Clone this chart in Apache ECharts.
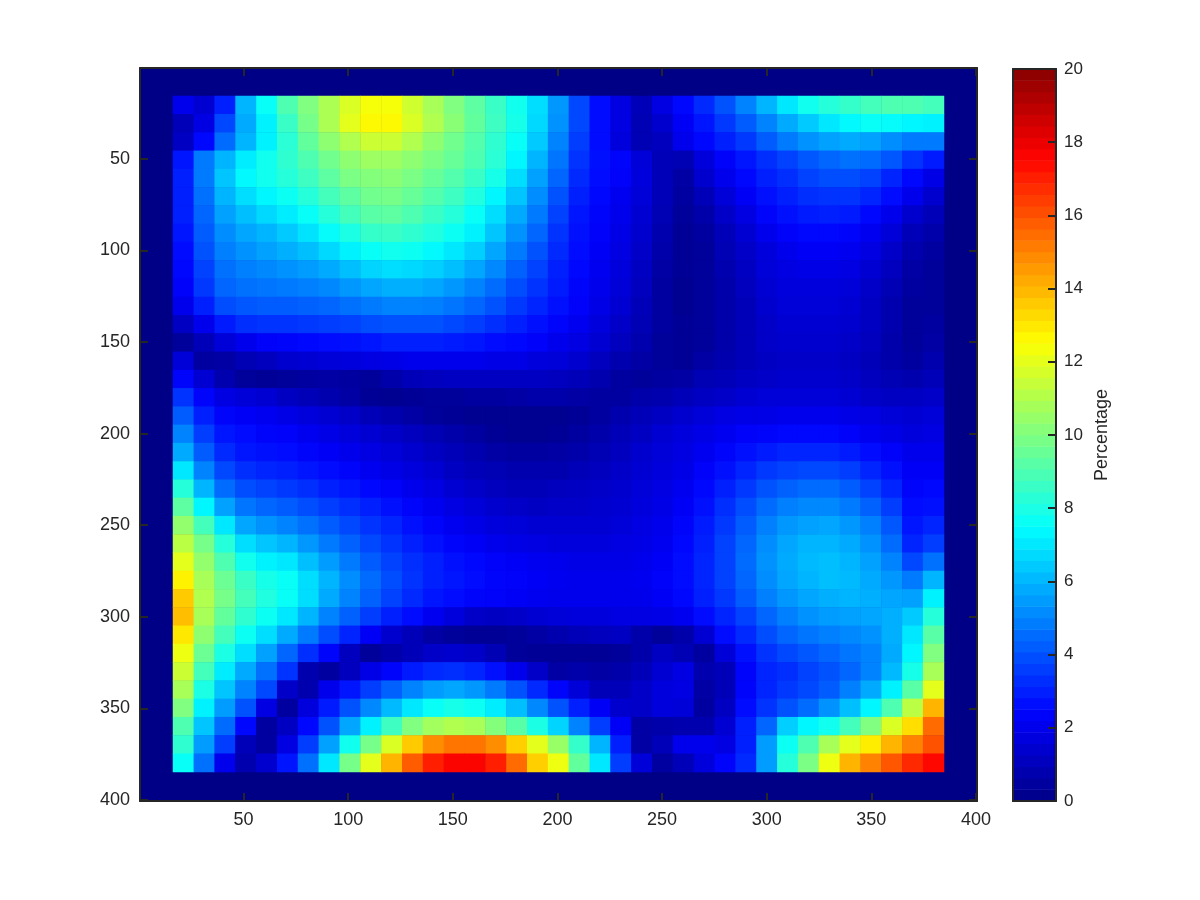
<!DOCTYPE html>
<html>
<head>
<meta charset="utf-8">
<style>html,body{margin:0;padding:0;background:#fff}#chart{width:1200px;height:900px}</style>
<script src="https://cdn.jsdelivr.net/npm/echarts@6/dist/echarts.min.js"></script>
</head>
<body>
<div id="chart"></div>
<script>
const axisTicks = [50,100,150,200,250,300,350,400];
const colorTicks = 2;
const colorMax = 20;
const colorbarLabel = 'Percentage';
const cellX = [20,30,40,50,60,70,80,90,100,110,120,130,140,150,160,170,180,190,200,210,220,230,240,250,260,270,280,290,300,310,320,330,340,350,360,370,380];
const cellY = cellX.slice();
const percentage = [
[2.0,1.5,3,6,7.6,9,10,10.9,11.8,12.4,12.4,11.6,10.8,10,9.3,8.6,7.8,6.8,5.4,3.8,2.6,1.8,1.0,1.8,2.5,3.2,4,5,6,7,7.8,8.2,8.5,8.8,9,9,8.8],
[1,1.8,3.8,5.8,7.2,8.6,9.8,10.9,12,12.6,12.6,11.8,11,10.2,9.4,8.7,7.9,6.7,5.3,3.8,2.6,1.8,0.9,1.4,2.2,2.8,3.5,4.2,5,5.8,6.4,7,7.4,7.6,7.5,7.3,7.2],
[1.2,2.5,4.5,6,7.2,8.3,9.4,10.3,11,11.5,11.5,11,10.3,9.7,9.1,8.4,7.6,6.4,5,3.6,2.6,1.7,0.9,1.1,2,2.5,3,3.5,4.2,4.8,5.3,5.6,5.8,5.6,5.2,4.8,4.8],
[2.8,4.8,6,7.1,7.8,8.4,9,9.7,10.3,10.6,10.6,10.3,9.9,9.5,9,8.3,7.3,6,4.7,3.4,2.7,2.4,1.6,1,0.9,1.7,2.3,2.8,3.3,3.7,4.1,4.4,4.6,4.5,4.1,3.4,2.9],
[3,4.8,6.3,7.4,7.8,8.2,8.7,9.3,9.9,10.1,10.2,9.9,9.5,9.1,8.6,7.9,6.8,5.6,4.4,3.2,2.6,2.3,1.7,1,0.6,1.4,2,2.5,3,3.3,3.7,3.9,3.9,3.7,3.1,2.5,1.9],
[3,4.6,6,6.8,7.3,7.7,8.2,8.8,9.3,9.7,9.8,9.5,9.1,8.7,8.1,7.3,6.3,5.2,4,3,2.5,2.1,1.6,1,0.5,1,1.6,2.2,2.7,3,3.3,3.4,3.4,3.1,2.6,2,1.4],
[3,4.4,5.6,6.2,6.7,7.1,7.6,8.2,8.8,9.2,9.3,9,8.6,8.2,7.6,6.8,5.8,4.8,3.7,2.8,2.4,2,1.5,0.9,0.4,0.7,1.3,1.8,2.4,2.7,2.9,3,2.9,2.5,2,1.4,1],
[2.8,4.2,5.2,5.7,6,6.4,6.9,7.5,8,8.5,8.6,8.4,8.1,7.7,7.2,6.3,5.3,4.4,3.4,2.7,2.3,1.9,1.4,0.8,0.3,0.5,1,1.5,2,2.3,2.5,2.5,2.4,2.1,1.6,1,0.7],
[2.6,4,4.9,5.3,5.6,5.9,6.2,6.7,7.2,7.6,7.8,7.7,7.4,7,6.5,5.7,4.8,4,3.2,2.6,2.2,1.8,1.3,0.7,0.3,0.4,0.9,1.3,1.7,2,2.2,2.2,2.1,1.8,1.3,0.8,0.5],
[2.5,3.7,4.6,4.9,5.1,5.3,5.5,5.8,6.2,6.6,6.8,6.7,6.5,6.2,5.7,5.1,4.3,3.7,3,2.5,2.1,1.7,1.2,0.6,0.3,0.4,0.8,1.2,1.6,1.8,1.9,1.9,1.8,1.5,1.1,0.6,0.4],
[2.3,3.5,4.4,4.6,4.7,4.8,4.9,5.1,5.4,5.7,5.9,5.9,5.7,5.4,5,4.5,3.9,3.4,2.9,2.4,2,1.6,1.1,0.5,0.2,0.4,0.7,1.1,1.5,1.7,1.7,1.7,1.6,1.3,0.9,0.5,0.4],
[2,3,3.9,4.1,4.2,4.2,4.3,4.4,4.6,4.8,5,5,4.9,4.7,4.4,4,3.5,3.1,2.7,2.3,1.9,1.5,1,0.5,0.2,0.4,0.7,1,1.4,1.6,1.6,1.6,1.5,1.2,0.8,0.4,0.4],
[1.2,2,2.9,3.3,3.4,3.4,3.5,3.6,3.7,3.9,4,4,4,3.8,3.6,3.3,3,2.7,2.4,2.1,1.7,1.3,0.9,0.5,0.3,0.4,0.7,1,1.3,1.5,1.5,1.5,1.4,1.2,0.8,0.4,0.5],
[0.4,1,1.6,2,2.3,2.4,2.5,2.6,2.7,2.8,3,3,3,2.9,2.8,2.6,2.5,2.3,2,1.8,1.5,1.1,0.8,0.4,0.3,0.4,0.7,1,1.3,1.4,1.4,1.4,1.3,1.1,0.7,0.4,0.6],
[1.6,0.5,0.6,0.9,1.1,1.4,1.5,1.6,1.7,1.8,1.9,2,2,2,2,1.9,1.9,1.7,1.6,1.4,1.1,0.8,0.6,0.4,0.3,0.6,0.8,1,1.2,1.3,1.3,1.3,1.2,1,0.7,0.5,0.8],
[2.4,1.5,0.8,0.4,0.3,0.4,0.5,0.6,0.5,0.4,0.7,1,1.1,1.2,1.2,1.2,1.2,1.2,1.1,1,0.8,0.5,0.4,0.5,0.6,0.9,1,1.2,1.3,1.4,1.4,1.4,1.3,1.1,0.9,0.8,1],
[3.4,2.4,1.8,1.6,1.5,1.2,1,0.8,0.6,0.3,0.2,0.3,0.4,0.4,0.5,0.5,0.6,0.7,0.7,0.6,0.5,0.5,0.7,0.8,1,1.2,1.3,1.5,1.6,1.6,1.6,1.6,1.5,1.3,1.2,1.2,1.3],
[4.2,3,2.4,2.2,2.1,1.9,1.7,1.5,1.3,1,0.8,0.6,0.4,0.3,0.2,0.2,0.2,0.2,0.2,0.3,0.5,0.8,1,1.2,1.4,1.6,1.8,1.9,1.9,2,2,2,1.9,1.8,1.6,1.5,1.6],
[5,3.6,2.8,2.6,2.4,2.3,2.1,1.9,1.7,1.5,1.3,1.1,0.9,0.7,0.5,0.3,0.2,0.2,0.3,0.5,0.7,1,1.2,1.5,1.7,1.9,2.1,2.3,2.4,2.5,2.5,2.5,2.3,2.1,1.9,1.7,1.8],
[5.8,4.2,3.2,2.8,2.7,2.6,2.4,2.2,2,1.8,1.6,1.4,1.2,1,0.8,0.6,0.5,0.5,0.6,0.7,0.9,1.1,1.4,1.6,1.8,2.1,2.4,2.7,2.9,3.1,3.1,3.1,2.9,2.6,2.3,2,2],
[7,5,3.8,3.3,3.1,3,2.8,2.6,2.4,2.1,1.9,1.7,1.5,1.2,1,0.9,0.8,0.8,0.8,1,1.1,1.3,1.5,1.7,1.9,2.3,2.7,3.1,3.5,3.7,3.8,3.8,3.6,3.1,2.7,2.2,2.2],
[8.2,6,4.5,3.9,3.7,3.5,3.3,3,2.8,2.5,2.3,2,1.8,1.5,1.3,1.1,1,1,1.1,1.2,1.3,1.4,1.6,1.8,2.1,2.5,3,3.5,4,4.3,4.5,4.5,4.2,3.7,3.1,2.4,2.5],
[9.3,7.3,5.6,4.7,4.4,4.2,3.9,3.6,3.3,3,2.7,2.4,2.1,1.8,1.6,1.4,1.3,1.2,1.3,1.3,1.4,1.5,1.7,1.9,2.2,2.7,3.3,3.9,4.5,4.9,5.1,5.1,4.8,4.3,3.6,2.6,2.7],
[10.4,8.8,7,5.7,5.3,5,4.6,4.2,3.8,3.4,3.1,2.7,2.4,2.1,1.9,1.7,1.6,1.5,1.5,1.5,1.5,1.6,1.8,2,2.4,2.9,3.5,4.2,4.9,5.4,5.6,5.7,5.4,4.9,4.1,2.8,3.1],
[11.2,9.8,8.2,6.8,6.3,6,5.4,4.8,4.3,3.8,3.4,3,2.7,2.4,2.2,2,1.9,1.8,1.7,1.7,1.7,1.8,1.9,2.1,2.5,3,3.7,4.4,5.2,5.7,6,6,5.8,5.3,4.5,3.1,3.6],
[12,10.4,9,7.8,7.2,7,6.2,5.5,4.8,4.2,3.7,3.3,3,2.7,2.5,2.3,2.2,2.1,2,1.9,1.9,1.9,2,2.2,2.6,3.1,3.7,4.5,5.3,5.8,6.1,6.2,6,5.6,5,3.8,4.6],
[12.8,10.8,9.6,8.6,7.9,7.6,6.8,6,5.2,4.5,3.9,3.4,3,2.8,2.6,2.4,2.3,2.2,2.1,2,2,2,2.1,2.3,2.6,3.1,3.7,4.4,5.2,5.7,6,6.2,6.1,5.8,5.4,4.8,6],
[13.6,11,9.8,8.8,8.1,7.6,6.8,5.8,5,4.3,3.7,3.2,2.8,2.6,2.4,2.3,2.2,2.1,2,2,2,2,2,2.2,2.5,3,3.5,4.2,4.9,5.4,5.7,5.9,6,5.9,5.7,5.6,7.2],
[13.8,10.8,9.4,8.4,7.7,7,6,5,4.3,3.6,3,2.6,2.1,1.7,1.3,1.2,1.3,1.5,1.6,1.7,1.7,1.8,1.8,1.9,2.1,2.6,3.1,3.7,4.4,4.9,5.3,5.5,5.6,5.7,5.9,6.4,8.2],
[13,10.3,8.8,7.7,6.8,5.8,4.8,3.9,3.1,2.2,1.4,1,0.6,0.4,0.3,0.3,0.4,0.6,0.8,1,1.1,1.2,0.7,0.4,0.7,1.5,2.6,3.2,3.9,4.4,4.7,4.9,5.1,5.3,5.9,7,9.2],
[12.2,9.6,8,6.8,5.6,4.4,3.3,2.4,1.1,0.4,0.7,1,1.3,1.4,1.3,0.9,0.4,0.3,0.3,0.3,0.3,0.4,0.7,1.2,0.9,0.5,1.6,2.7,3.4,3.8,4.1,4.4,4.7,5,5.8,7.3,10],
[11.5,8.8,7.1,5.8,4.6,3.4,0.8,0.5,1.1,1.9,2.4,2.9,3.2,3.3,3.1,2.7,2,1.3,0.6,0.7,0.6,0.7,1,1.5,1.8,0.8,1,2.4,3.1,3.3,3.7,4,4.4,5,6.1,7.9,10.8],
[10.8,8,6.3,5,3.8,1.3,0.8,2,2.8,3.6,4.3,5,5.5,5.7,5.4,4.8,4,3.2,2.4,1.6,1,1,1.3,1.7,1.8,0.6,1,2.4,3.1,3.5,3.8,4.2,4.9,5.8,7.2,9.2,12],
[10,7.2,5.5,4,1.8,0.5,1.7,2.9,4,5.1,6.1,7,7.6,7.9,7.7,7.1,6.2,5.1,4,3,2.2,1.4,1.3,1.7,1.6,0.5,1.2,2.6,3.4,4,4.5,5.3,6.2,7.3,9,11.2,14],
[9,6.3,4.5,2.5,0.5,1.2,2.5,4,5.7,7.2,8.7,10,10.7,11,10.8,10.1,9.2,8,6.6,5,3.6,2.2,0.6,0.7,0.8,0.8,1.5,3,4.4,6.5,7.3,7.8,8.8,10,11.8,13.2,15.5],
[8.4,5.5,3.6,1,0.5,1.8,3.6,5.6,7.8,9.8,11.8,13.6,14.8,15.3,15.3,14.8,13.5,12,10.5,8.5,6,3,0.6,1,2,2,1.8,3,5.5,7.7,9,10.8,12,12.9,14,15,16],
[7.6,4.6,2,0.8,1.4,2.8,4.6,7,9.8,12,14,15.8,17,17.6,17.6,17,15.5,13.5,12.2,9.4,7,3.6,1.6,0.5,1,1.7,2.4,3.2,5.5,8.2,9.9,12.2,14,15,15.9,16.8,17.5]
];

function jet(i, n) {
  const t = (i + 0.5) / n * 4;
  const ch = v => Math.round(255 * Math.max(0, Math.min(1, v)));
  return 'rgb(' + ch(Math.min(t - 1.5, 4.5 - t)) + ',' + ch(Math.min(t - 0.5, 3.5 - t)) + ',' + ch(Math.min(t + 0.5, 2.5 - t)) + ')';
}
const levels = 64;
const jetColors = [];
for (let i = 0; i < levels; i++) jetColors.push(jet(i, levels));

const heatData = [];
percentage.forEach((row, j) => row.forEach((v, i) => heatData.push([i, j, v])));
const levelIndex = jetColors.map((_, i) => i);
const barData = levelIndex.map(i => [0, i, (i + 0.5) * colorMax / levels]);

const ink = '#262626';
const font = '"Liberation Sans", Arial, sans-serif';
const frame = {show: true, onZero: false, lineStyle: {color: ink, width: 2}};

function edgeAxis(extra) {
  return Object.assign({
    type: 'value', z: 10, splitLine: {show: false}, axisLine: frame,
    axisTick: {show: false}, axisLabel: {show: false}
  }, extra);
}
const mainTick = {show: true, inside: true, length: 8, customValues: axisTicks, lineStyle: {color: ink, width: 2}};
const mainLabel = {show: true, customValues: axisTicks, color: ink, fontSize: 18, fontFamily: font, margin: 10};
const range = {min: 0.5, max: 400.5};
const hiddenCat = (data, g, extra) => Object.assign({type: 'category', data, gridIndex: g, show: false, boundaryGap: true}, extra);

const option = {
  backgroundColor: '#fff',
  animation: false,
  textStyle: {fontFamily: font},
  grid: [
    {left: 140, top: 68, width: 837, height: 733, show: true, backgroundColor: jetColors[0], borderWidth: 0, containLabel: false},
    {left: 173, top: 96, width: 771, height: 676, show: false, containLabel: false},
    {left: 1013, top: 69, width: 43, height: 732, show: false, containLabel: false}
  ],
  xAxis: [
    edgeAxis(Object.assign({gridIndex: 0, position: 'bottom', axisTick: mainTick, axisLabel: mainLabel}, range)),
    edgeAxis(Object.assign({gridIndex: 0, position: 'top', axisTick: mainTick}, range)),
    hiddenCat(cellX, 1),
    hiddenCat(['bar'], 2),
    edgeAxis({gridIndex: 2, position: 'top', min: 0, max: 1}),
    edgeAxis({gridIndex: 2, position: 'bottom', min: 0, max: 1})
  ],
  yAxis: [
    edgeAxis(Object.assign({gridIndex: 0, position: 'left', inverse: true, axisTick: mainTick, axisLabel: mainLabel}, range)),
    edgeAxis(Object.assign({gridIndex: 0, position: 'right', inverse: true, axisTick: mainTick}, range)),
    hiddenCat(cellY, 1, {inverse: true}),
    hiddenCat(levelIndex, 2),
    edgeAxis({
      gridIndex: 2, position: 'right', min: 0, max: colorMax, interval: colorTicks,
      axisTick: {show: true, inside: true, length: 8, lineStyle: {color: ink, width: 2}},
      axisLabel: {show: true, color: ink, fontSize: 17, fontFamily: font, margin: 8},
      name: colorbarLabel, nameLocation: 'middle', nameRotate: 90, nameGap: 37,
      nameTextStyle: {color: ink, fontSize: 18, fontFamily: font}
    }),
    edgeAxis({gridIndex: 2, position: 'left', min: 0, max: colorMax})
  ],
  visualMap: {
    show: false, type: 'continuous', min: 0, max: colorMax, dimension: 2,
    seriesIndex: [0, 1], inRange: {color: jetColors}
  },
  series: [
    {type: 'heatmap', xAxisIndex: 2, yAxisIndex: 2, data: heatData, progressive: 0, emphasis: {disabled: true}},
    {type: 'heatmap', xAxisIndex: 3, yAxisIndex: 3, data: barData, progressive: 0, emphasis: {disabled: true}}
  ]
};
const chart = echarts.init(document.getElementById('chart'), null, {renderer: 'canvas'});
chart.setOption(option);
</script>
</body>
</html>
